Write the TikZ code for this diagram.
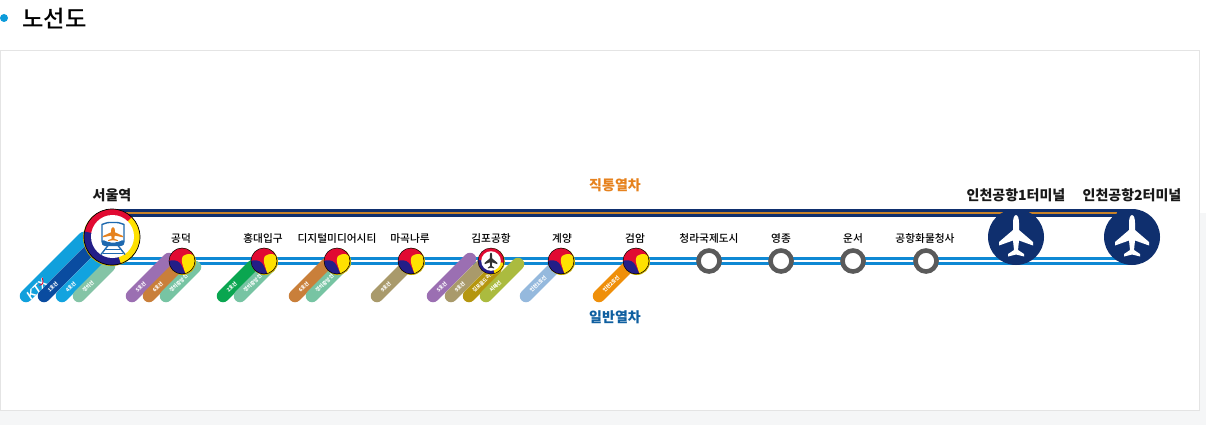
\documentclass[tikz,border=0pt]{standalone}
\usepackage{fontspec}
\setmainfont{Noto Sans CJK KR}
\newfontfamily\ktxfont{Liberation Sans}
\newfontfamily\medfont{Noto Sans CJK KR Medium}
\definecolor{navyline}{RGB}{15, 47, 110}
\definecolor{orangeline}{RGB}{200, 130, 40}
\definecolor{blueline}{RGB}{15, 137, 212}
\definecolor{ringgray}{RGB}{90, 90, 90}
\definecolor{taered}{RGB}{225, 10, 50}
\definecolor{taenavy}{RGB}{35, 30, 135}
\definecolor{taeyellow}{RGB}{255, 225, 0}
\definecolor{pagegray}{RGB}{245, 246, 247}
\definecolor{panelline}{RGB}{228, 228, 228}
\definecolor{expresstext}{RGB}{230, 130, 30}
\definecolor{localtext}{RGB}{15, 95, 160}
\definecolor{trainblue}{RGB}{30, 105, 175}
\usetikzlibrary{backgrounds}
\tikzset{
  stn/.style={circle, inner sep=0pt, minimum size=26pt},
  bigstn/.style={circle, inner sep=0pt, minimum size=56pt},
  airstn/.style={bigstn, fill=navyline},
  ringstn/.style={circle, draw=ringgray, line width=4.6pt, fill=white, inner sep=0pt, minimum size=21pt},
  stnname/.style={font=\fontsize{10.7pt}{12pt}\medfont, text=black},
  bigname/.style={font=\fontsize{14pt}{16pt}\selectfont\bfseries, text=black!90},
  trainname/.style={font=\fontsize{14pt}{16pt}\selectfont\bfseries},
  pill/.style={line width=12.5pt, line cap=round},
  pilltext/.style={font=\fontsize{5pt}{6pt}\selectfont\bfseries, text=white, inner sep=0pt, anchor=west, sloped, pos=0},
  pics/jet/.style={code={
    \fill[#1] (0,-22) .. controls (2,-22) and (3,-18) .. (3,-14) -- (3,-7) -- (17,5) -- (17,8.5) -- (3,3.5) -- (2,13) -- (8,17) -- (8,19.5) -- (0,17.5)
      -- (-8,19.5) -- (-8,17) -- (-2,13) -- (-3,3.5) -- (-17,8.5) -- (-17,5) -- (-3,-7) -- (-3,-14) .. controls (-3,-18) and (-2,-22) .. (0,-22) -- cycle;
  }},
  pics/taeguk/.style={code={
    \fill[taeyellow!80!black] (0.6,0.6) circle (13.4);
    \begin{scope}
      \clip (0,0) circle (13);
      \fill[taered] (-14,-14) rectangle (14,14);
      \fill[taeyellow] (15,-3) .. controls (11,-8) and (5,-8) .. (1,-5) .. controls (-1,-2) and (0,2) .. (1,5) -- (4,15) -- (15,15) -- cycle;
      \fill[taenavy] (-15,1) .. controls (-10,-2) and (-5,-1) .. (-2,2) .. controls (0,5) and (2,9) .. (4,15) -- (-15,15) -- cycle;
    \end{scope}
    \draw[black, line width=0.5pt] (0,0) circle (13);
  }},
  pics/seoulring/.style={code={
    \fill[taeyellow!80!black] (-0.5,0.6) circle (28.4);
    \begin{scope}
      \clip (0,0) circle (28);
      \fill[taered] (-30,-30) rectangle (30,30);
      \fill[taenavy] (-30,-6) -- (0,0) -- (10,30) -- (-30,30) -- cycle;
      \fill[taeyellow] (30,-30) -- (0,0) -- (10,30) -- (30,30) -- cycle;
      \fill[white] (0.5,-0.5) circle (21.5);
    \end{scope}
    \draw[black, line width=0.7pt] (0,0) circle (28);
  }},
  pics/gimporing/.style={code={
    \fill[taeyellow!80!black] (0.5,0.6) circle (13.3);
    \begin{scope}
      \clip (0,0) circle (13);
      \fill[taered] (-14,-14) rectangle (14,14);
      \fill[taenavy] (-14,-1) -- (0,0) -- (4,14) -- (-14,14) -- cycle;
      \fill[taeyellow] (14,2) -- (0,0) -- (4,14) -- (14,14) -- cycle;
      \fill[white] (0,0) circle (9.8);
    \end{scope}
    \draw[black, line width=0.4pt] (0,0) circle (13);
  }},
  pics/traingl/.style={code={
    \draw[#1, line width=1.4pt, rounded corners=4pt] (-11,11) -- (-11,-6) .. controls (-11,-10) and (-6,-12) .. (0,-12) .. controls (6,-12) and (11,-10) .. (11,-6) -- (11,11) -- cycle;
    \fill[#1, rounded corners=2pt] (-11,5) -- (-4,8) -- (4,8) -- (11,5) -- (11,11) -- (-11,11) -- cycle;
    \draw[#1, line width=1.4pt] (-5,11) -- (-12,20) (5,11) -- (12,20);
    \draw[#1, line width=1.2pt] (-7,15) -- (7,15) (-10,19) -- (10,19);
  }}
}

\begin{document}
\begin{tikzpicture}[x=1pt, y=-1pt]
  \useasboundingbox (0,0) rectangle (1206,425);

  % stations
  \node[bigstn] (seoul) at (112,237) {};
  \node[stn] (gongdeok) at (182,261) {};
  \node[stn] (hongdae) at (264,261) {};
  \node[stn] (dmc) at (337,261) {};
  \node[stn] (magok) at (411,261) {};
  \node[stn] (gimpo) at (491,261) {};
  \node[stn] (gyeyang) at (561,261) {};
  \node[stn] (geomam) at (636,261) {};
  \node[ringstn] (cheongna) at (709,261) {};
  \node[ringstn] (yeongjong) at (781,261) {};
  \node[ringstn] (unseo) at (853,261) {};
  \node[ringstn] (cargo) at (926,261) {};
  \node[airstn] (termone) at (1016,237) {};
  \node[airstn] (termtwo) at (1132,237) {};

  \coordinate (exprstart) at (seoul |- 0,213);
  \coordinate (exprend) at (termtwo |- 0,213);
  \coordinate (exprtip) at (1117,213);
  \coordinate (localstart) at (seoul |- gongdeok);
  \coordinate (localend) at (termtwo |- gongdeok);
  \coordinate (trainspot) at (113,234.5);

  \begin{scope}[on background layer]
    \fill[white] (0,0) rectangle (1206,425);
    \fill[pagegray] (0,411) rectangle (1206,425);
    \fill[pagegray] (1200,213) rectangle (1206,425);
    \draw[panelline] (0.5,50.5) rectangle (1199.5,410.5);

    \draw[navyline, line width=8pt] (exprstart) -- (exprend);
    \draw[orangeline, line width=2.4pt] (exprstart) -- (exprtip);
    \draw[blueline, line width=8pt] (localstart) -- (localend);
    \draw[white, line width=1.5pt] (localstart) -- (localend);

    % transfer lines
    \foreach \n/\colr/\bx/\len/\txt in {
      b/10A0DC/26/58/{},
      c/0A4CA0/44/52/1호선,
      d/12A3DF/62/44/4호선,
      e/84C4A6/79/30/경의선,
      f/9B6FB2/132/37/5호선,
      g/C97F3A/149/28/6호선,
      h/77C4A3/166/29/경의중앙선,
      i/0AA650/223/30/2호선,
      j/77C4A3/240/30/경의중앙선,
      k/C97F3A/295/33/6호선,
      l/77C4A3/312/33/경의중앙선,
      m/A99A6B/377/32/9호선,
      n/9B6FB2/433/37/5호선,
      o/A99A6B/451/34/9호선,
      p/B5960F/469/26/김포골드라인,
      q/ABBB3F/486/32/서해선,
      r/95B9DD/526/30/인천1호선,
      s/EF8F0A/599/33/인천2호선} {
      \definecolor{pillcol}{HTML}{\colr}
      \draw[pill, draw=pillcol] (\bx,296) coordinate (pa\n) -- ++(\len,-\len) coordinate (pb\n)
        node[pilltext] (pt\n) {\txt};
    }
  \end{scope}
  \node[font=\fontsize{12pt}{12pt}\ktxfont\bfseries\itshape, text=white, inner sep=0pt, anchor=west, rotate=45] (ktx) at (28,298) {KTX};
  \draw[taered, line width=0.9pt] (ktx.north east) .. controls ([xshift=-1pt,yshift=-3pt]ktx.east) and ([xshift=-3pt,yshift=-4pt]ktx.east) .. ([xshift=-6pt,yshift=-4.5pt]ktx.east);

  % station marks
  \pic at (seoul) {seoulring};
  \pic at (trainspot) {traingl=trainblue};
  \pic[xscale=0.6, yscale=0.33] at (trainspot) {jet=expresstext};
  \foreach \s in {gongdeok, hongdae, dmc, magok, gyeyang, geomam} {
    \pic at (\s) {taeguk};
  }
  \pic at (gimpo) {gimporing};
  \pic[scale=0.38] at (gimpo) {jet=black!80};
  \pic at (termone) {jet=white};
  \pic at (termtwo) {jet=white};

  % names
  \node[bigname] (seoulname) at (112,195) {서울역};
  \node[stnname] (gongdeokname) at (181,238.5) {공덕};
  \node[stnname] (hongdaename) at (263,238.5) {홍대입구};
  \node[stnname] (dmcname) at (337,238.5) {디지털미디어시티};
  \node[stnname] (magokname) at (410,238.5) {마곡나루};
  \node[stnname] (gimponame) at (491,238.5) {김포공항};
  \node[stnname] (gyeyangname) at (562,238.5) {계양};
  \node[stnname] (geomamname) at (635,238.5) {검암};
  \node[stnname] (cheongnaname) at (709,238.5) {청라국제도시};
  \node[stnname] (yeongjongname) at (781,238.5) {영종};
  \node[stnname] (unseoname) at (853,238.5) {운서};
  \node[stnname] (cargoname) at (925,238.5) {공항화물청사};
  \node[bigname] (termonename) at (1016,195) {인천공항1터미널};
  \node[bigname] (termtwoname) at (1132,195) {인천공항2터미널};
  \node[trainname, text=expresstext] (express) at (615,185.5) {직통열차};
  \node[trainname, text=localtext] (local) at (615,317.5) {일반열차};

  % heading
  \node[circle, fill=blueline!85!cyan, inner sep=0pt, minimum size=8pt] (bullet) at (4,18) {};
  \node[font=\fontsize{23.3pt}{26pt}\medfont, text=black, inner sep=0pt, anchor=west] (heading) at (22,19) {노선도};
\end{tikzpicture}
\end{document}
